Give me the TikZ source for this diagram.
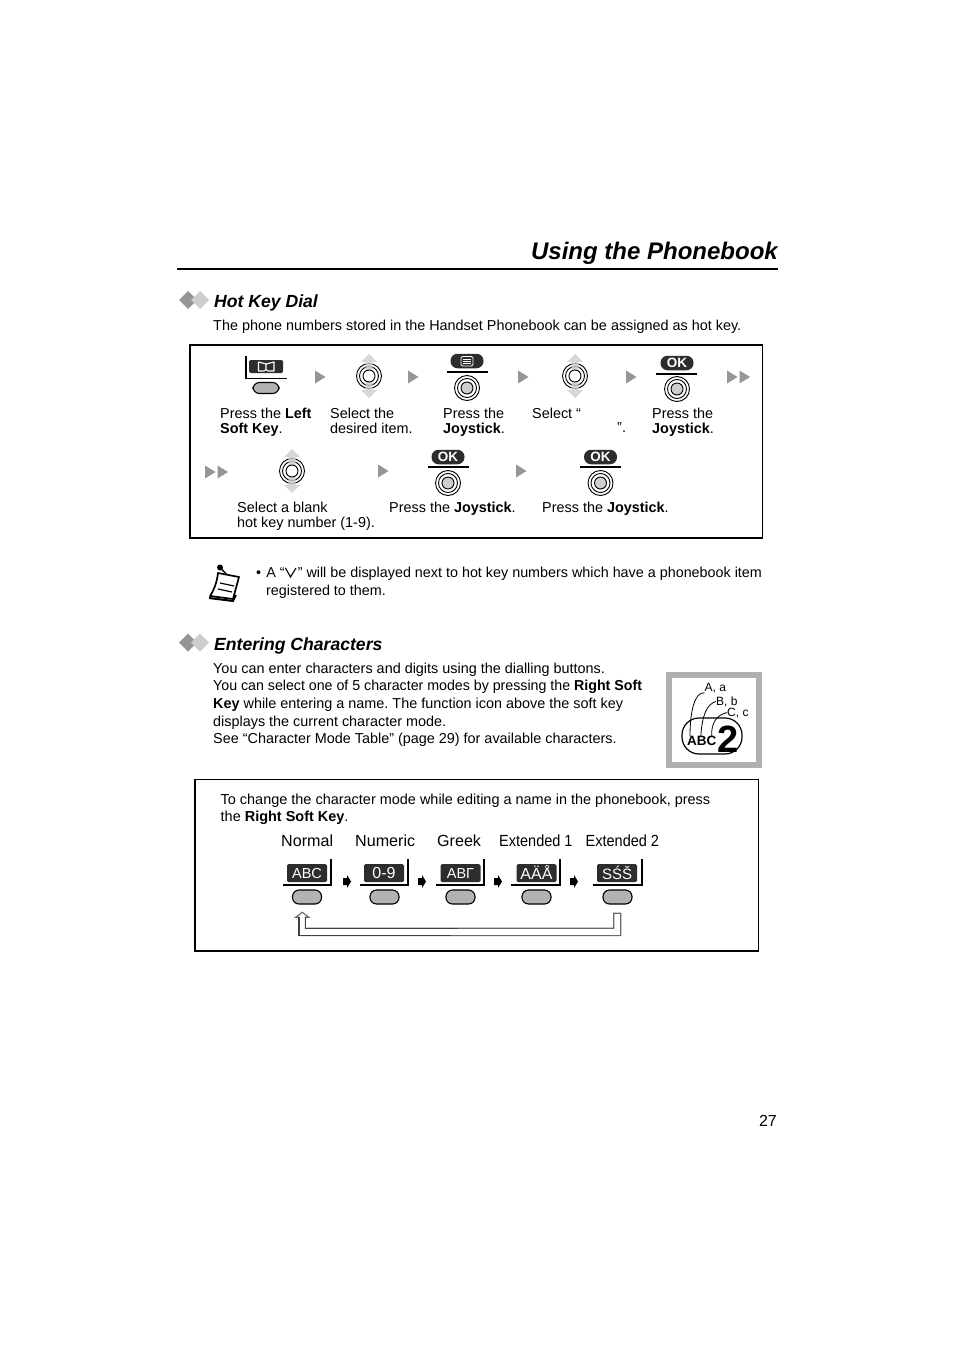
\documentclass[tikz,border=0pt]{standalone}
\usepackage{fontspec}
\setmainfont{Liberation Sans}
\usepackage{xcolor}
\usepackage{tikz}
\usetikzlibrary{arrows.meta,positioning,calc}
\definecolor{KeyGray}{RGB}{178,178,178}
\definecolor{DarkKey}{RGB}{45,45,45}
\definecolor{MarkGray}{RGB}{150,150,150}
\definecolor{PadGray}{RGB}{205,205,205}
\definecolor{FrameGray}{RGB}{176,176,176}
\frenchspacing

\begin{document}
\begin{tikzpicture}[
  x=1pt,y=-1pt,
  body/.style={anchor=north west, inner sep=0pt, align=left,
    font=\fontsize{14.4}{15}\selectfont},
  para/.style={body, font=\fontsize{14.4}{17.7}\selectfont},
  heading/.style={anchor=base west, inner sep=0pt,
    font=\fontsize{17.6}{20}\selectfont\bfseries\itshape},
  mode/.style={anchor=base west, inner sep=0pt, font=\fontsize{16.1}{18}\selectfont},
  panel/.style={draw=black, fill=white, line width=1.5pt},
  softkey/.style={draw=black, fill=KeyGray, line width=1.1pt, rounded corners=6.5pt,
    minimum width=29pt, minimum height=14pt, inner sep=0pt},
  display/.style={fill=DarkKey, rounded corners=1.5pt, text=white,
    minimum width=40pt, minimum height=18pt, inner sep=0pt,
    font=\fontsize{14.5}{15}\selectfont},
  okpill/.style={fill=DarkKey, rounded corners=7pt, text=white,
    minimum width=33pt, minimum height=14.5pt, inner sep=0pt,
    font=\fontsize{13.5}{14}\selectfont\bfseries},
  bar/.style={line width=1.4pt},
  smalltag/.style={anchor=base west, inner sep=0pt, font=\fontsize{12}{13}\selectfont},
  nextmark/.pic={\fill[MarkGray] (-5,-6.5) -- (5.5,0) -- (-5,6.5) -- cycle;},
  forward/.pic={\fill[black] (-4,-3.5) -- (0,-3.5) -- (0,-6.5) -- (4,0) -- (0,6.5) -- (0,3.5) -- (-4,3.5) -- cycle;},
  diamonds/.pic={
    \fill[MarkGray] (-15,0) -- (-6,-9) -- (3,0) -- (-6,9) -- cycle;
    \fill[PadGray] (-3,0) -- (6,-9) -- (15,0) -- (6,9) -- cycle;},
  navstick/.pic={
    \draw[line width=0.9pt] (0,0) circle (12.5pt) (0,0) circle (9.5pt);
    \fill[PadGray,opacity=0.8] (0,-22) -- (8,-14) -- (3.5,-14) -- (3.5,14) -- (8,14) -- (0,22) -- (-8,14) -- (-3.5,14) -- (-3.5,-14) -- (-8,-14) -- cycle;
    \draw[line width=0.9pt,fill=white] (0,0) circle (6pt);},
  pressstick/.pic={
    \draw[line width=0.9pt,fill=white] (0,0) circle (12.5pt) (0,0) circle (9.5pt);
    \draw[line width=0.9pt,fill=PadGray] (0,0) circle (6pt);}
]
\path[fill=white,use as bounding box] (0,0) rectangle (954,1351);

% page head
\node[anchor=base east, inner sep=0pt, font=\fontsize{24}{28}\selectfont\bfseries\itshape]
  (title) at (778,259) {Using the Phonebook};
\draw[line width=2pt] (177,268.5) -- (778,268.5);

% hot key dial
\pic at (194,300) {diamonds};
\node[heading] (hotkey) at (214,307) {Hot Key Dial};
\node[para] (hotintro) at (213,319.5)
  {The phone numbers stored in the Handset Phonebook can be assigned as hot key.};
\draw[panel] (190,345) rectangle (762.5,538);

% first row
\draw[bar] (246,356) -- (246,378.5) -- (287,378.5);
\node[display, minimum width=34pt, minimum height=13pt] (book) at (266,366.5) {};
\draw[white,line width=1.1pt,line join=round] (258.5,362) -- (266,364) -- (274,362) -- (274,371) -- (268,371) -- (266,369.5) -- (264,371) -- (258.5,371) -- cycle (266,364) -- (266,369.5);
\node[softkey, minimum width=26pt, minimum height=11pt] (leftkey) at (266,388) {};
\pic at (320,377) {nextmark};
\pic at (369,376) {navstick};
\pic at (413,377) {nextmark};
\node[okpill] (menu) at (467,361) {};
\draw[white,fill=DarkKey,line width=0.8pt,rounded corners=1.5pt] (461,356.5) rectangle (473,366);
\draw[white,line width=0.7pt] (463,359) -- (471,359) (463,361.3) -- (471,361.3) (463,363.6) -- (471,363.6);
\draw[bar] (447,372) -- (488,372);
\pic at (467,388) {pressstick};
\pic at (523,377) {nextmark};
\pic at (575,376) {navstick};
\pic at (631,377) {nextmark};
\node[okpill] (okone) at (677,363) {OK};
\draw[bar] (656,374) -- (697,374);
\pic at (677,389) {pressstick};
\pic at (732,377) {nextmark};
\pic at (744.5,377) {nextmark};

\node[body] (leftsoft) at (220,407.5) {Press the \textbf{Left}\\\textbf{Soft Key}.};
\node[body] (desired) at (330,407.5) {Select the\\desired item.};
\node[body] (pressone) at (443,407.5) {Press the\\\textbf{Joystick}.};
\node[body] (selopen) at (532,407.5) {Select “};
\node[body] (selclose) at (617,422) {”.};
\node[body] (presstwo) at (652,407.5) {Press the\\\textbf{Joystick}.};

% second row
\pic at (210,472) {nextmark};
\pic at (222.5,472) {nextmark};
\pic at (292,471) {navstick};
\pic at (383,471) {nextmark};
\node[okpill] (oktwo) at (448,457) {OK};
\draw[bar] (428,467) -- (469,467);
\pic at (448,483) {pressstick};
\pic at (521,471) {nextmark};
\node[okpill] (okthree) at (600.5,457) {OK};
\draw[bar] (580,467) -- (621,467);
\pic at (600.5,483) {pressstick};

\node[body] (blank) at (237,501.5) {Select a blank\\hot key number (1-9).};
\node[body] (pressthree) at (389,501.5) {Press the \textbf{Joystick}.};
\node[body] (pressfour) at (542,501.5) {Press the \textbf{Joystick}.};

% note
\fill[black] (220,567.5) circle (3pt);
\draw[line width=1.4pt] (220,567.5) -- (230,578);
\draw[line width=1.7pt,fill=white,line join=round] (218,573) -- (239,577) -- (233,599) -- (210,596) .. controls (214,590) and (217,582) .. cycle;
\draw[line width=2pt] (209,598) -- (233,601) -- (236,595);
\draw[line width=1.2pt] (220,583) -- (234,586) (218,589) -- (232,592);
\node[para, font=\fontsize{14.35}{18}\selectfont] (note) at (256,566.5)
  {•\hspace{5.2pt}A “\hspace{13pt}” will be displayed next to hot key numbers which have a phonebook item\\
   \hspace{10pt}registered to them.};
\draw[line width=1.1pt] (285.5,568) -- (290.5,577) -- (296,568);

% entering characters
\pic at (194,642.5) {diamonds};
\node[heading] (entering) at (214,650) {Entering Characters};
\node[para] (enterintro) at (213,662.5)
  {You can enter characters and digits using the dialling buttons.\\
   \scalebox{0.986}[1]{You can select one of 5 character modes by pressing the \textbf{Right Soft}}\\
   \textbf{Key} while entering a name. The function icon above the soft key\\
   displays the current character mode.\\
   See “Character Mode Table” (page 29) for available characters.};

% button two figure
\draw[FrameGray,line width=6pt,fill=white] (669,675) rectangle (759,765);
\node[draw=black,fill=white,line width=1.2pt,rounded corners=17pt,
  minimum width=60pt,minimum height=36pt,inner sep=0pt] (twokey) at (712,736) {};
\node[anchor=base west,inner sep=0pt,font=\fontsize{13.5}{15}\selectfont\bfseries] (abc) at (687,745) {ABC};
\node[anchor=base west,inner sep=0pt,font=\fontsize{38}{40}\selectfont\bfseries] (two) at (717.5,752) {2};
\node[smalltag] (aa) at (704.5,691) {A, a};
\node[smalltag] (bb) at (716,705) {B, b};
\node[smalltag] (cc) at (727,716) {C, c};
\draw[line width=0.8pt] ($(abc.north west)+(3,1)$) .. controls (690,710) and (695,692) .. (aa.south west);
\draw[line width=0.8pt] ($(abc.north)+(-1,1)$) .. controls (702,715) and (707,704) .. (bb.west);
\draw[line width=0.8pt] ($(abc.north east)+(-5,1)$) .. controls (711,724) and (716,715) .. (cc.west);

% character mode panel
\draw[panel] (195,779.5) rectangle (758.5,951);
\node[para, font=\fontsize{14.46}{17}\selectfont] (modeintro) at (220.5,793.5)
  {To change the character mode while editing a name in the phonebook, press\\
   the \textbf{Right Soft Key}.};
\node[mode] (normal) at (281,846) {Normal};
\node[mode] (numeric) at (355,846) {Numeric};
\node[mode] (greek) at (437,846) {Greek};
\node[mode] (extone) at (499,846) {\scalebox{0.9}[1]{Extended 1}};
\node[mode] (exttwo) at (585.5,846) {\scalebox{0.9}[1]{Extended 2}};

\node[display] (dispa) at (307,873) {ABC};
\node[display, font=\fontsize{16}{17}\selectfont] (dispb) at (384,873) {0-9};
\node[display] (dispc) at (460.5,873) {ΑΒΓ};
\node[display, font=\fontsize{16}{17}\selectfont] (dispd) at (536.5,873) {AÄÅ};
\node[display, font=\fontsize{15}{16}\selectfont] (dispe) at (617,873) {SŚŠ};
\draw[bar] (331,859) -- (331,885) -- (283,885);
\draw[bar] (408,859) -- (408,885) -- (360,885);
\draw[bar] (484,859) -- (484,885) -- (436,885);
\draw[bar] (560,859) -- (560,885) -- (511,885);
\draw[bar] (642,859) -- (642,885) -- (593,885);

\node[softkey] (keya) at (307,897) {};
\node[softkey] (keyb) at (384.5,897) {};
\node[softkey] (keyc) at (460.5,897) {};
\node[softkey] (keyd) at (536.5,897) {};
\node[softkey] (keye) at (617.5,897) {};

\pic at (347,881.5) {forward};
\pic at (422,881.5) {forward};
\pic at (498,881.5) {forward};
\pic at (574,881.5) {forward};

\draw[line width=1.1pt,MarkGray!70!black,line join=miter]
  ($(keya.south)+(-4.7,7.7)$) -- ++(-6.6,5) -- ++(3.3,0) -- ++(0,18.3) -- ++(321.7,0)
  -- ++(0,-22.3) -- ++(-7,0) -- ++(0,15) -- ++(-308.3,0) -- ++(0,-11) -- ++(3.3,0) -- cycle;
\draw[line width=1.1pt,black!75] ($(keya.south)+(-1.3,12.7)$) -- ++(0,11) -- ++(152,0);
\draw[line width=1.1pt,black!75] ($(keya.south)+(-8,12.7)$) -- ++(0,18.3) -- ++(152,0);

% folio
\node[anchor=base east, inner sep=0pt, font=\fontsize{16}{18}\selectfont] (folio) at (777,1126) {27};
\end{tikzpicture}
\end{document}
